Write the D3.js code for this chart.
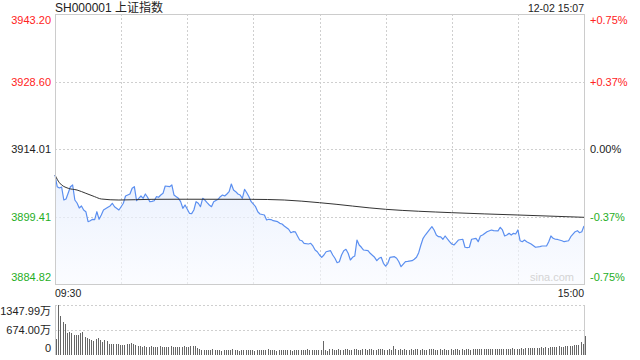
<!DOCTYPE html>
<html><head><meta charset="utf-8">
<script src="https://cdn.jsdelivr.net/npm/d3@7"></script>
<style>
html,body{margin:0;padding:0;background:#fff;}
svg{display:block;font-family:"Liberation Sans",Arial,"Noto Sans CJK SC",sans-serif;}
</style></head>
<body><svg id="c" width="640" height="360"></svg>
<script>
// ---- data ----
const title = "SH000001 上证指数";
const stamp = "12-02 15:07";
const prevClose = 3914.01;
const priceTicks = [3884.82, 3899.41, 3914.01, 3928.60, 3943.20];
const pctTicks = ["-0.75%", "-0.37%", "0.00%", "+0.37%", "+0.75%"];
const timeLabels = ["09:30", "15:00"];
const volTicks = [0, 674.00, 1347.99];
const volTickLabels = ["0", "674.00万", "1347.99万"];

// minute index (0 = 09:30, 120 = 11:30/13:00, 240 = 15:00) and price
const priceMin = [0,1,2,3,4,5,6,7,8,9,10,11,12,13,14,15,16,17,18,19,20,21,22,24,25,26,27,29,30,31,32,33,34,35,36,37,38,39,40,41,42,43,44,45,46,47,48,49,50,52,53,54,55,56,57,58,59,61,62,63,64,65,66,67,68,69,70,71,72,74,75,76,77,78,79,80,81,82,83,84,85,86,87,88,89,91,92,93,95,96,97,98,99,101,102,103,104,106,107,108,109,110,111,112,113,115,116,117,118,119,120,
121,122,123,125,126,127,128,129,130,131,132,133,134,135,136,137,138,139,140,142,143,145,146,147,148,149,150,151,152,154,155,156,157,159,160,162,163,164,165,166,167,168,170,171,172,173,174,175,176,177,179,180,181,182,183,185,186,187,188,189,191,192,193,194,196,198,199,201,202,203,204,205,206,207,208,209,210,211,212,213,214,216,218,220,221,223,224,225,226,227,228,230,231,233,234,236,237,238,239,240];
const priceVal = [3908.39,3905.86,3905.58,3905.79,3902.98,3903.20,3904.50,3905.86,3906.23,3902.98,3902.33,3901.25,3901.69,3900.82,3900.45,3898.29,3898.51,3898.81,3898.75,3900.45,3898.81,3899.74,3900.82,3901.40,3901.69,3902.27,3901.53,3900.82,3901.53,3902.27,3903.85,3904.06,3904.28,3905.51,3905.86,3902.83,3903.35,3903.85,3903.35,3904.28,3903.57,3902.62,3902.70,3902.83,3903.70,3903.57,3904.06,3904.43,3906.01,3905.86,3906.23,3904.06,3903.70,3903.35,3902.62,3901.19,3901.90,3900.11,3900.05,3900.82,3902.62,3902.27,3901.53,3903.35,3902.98,3902.40,3901.90,3901.53,3902.62,3903.13,3903.70,3904.06,3903.85,3904.28,3904.78,3906.44,3905.14,3904.78,3904.28,3904.06,3903.35,3905.30,3904.56,3903.70,3902.62,3901.53,3900.45,3899.96,3899.74,3898.66,3898.81,3898.75,3898.51,3898.29,3897.94,3897.79,3897.36,3896.65,3895.91,3896.13,3896.10,3895.20,3894.33,3894.18,3893.62,3893.47,3893.62,3893.04,3892.17,3891.80,3891.09,
3890.59,3891.09,3891.80,3892.02,3891.09,3890.38,3889.43,3889.64,3891.09,3892.02,3892.32,3891.46,3890.01,3890.59,3890.87,3894.33,3893.25,3892.76,3892.17,3892.02,3891.46,3890.59,3889.86,3890.38,3890.59,3889.30,3888.71,3889.30,3890.59,3890.72,3890.38,3889.64,3888.56,3889.64,3889.70,3889.86,3890.16,3890.59,3891.59,3893.25,3894.70,3895.41,3896.65,3897.21,3896.50,3895.41,3895.05,3895.00,3894.49,3895.20,3893.97,3893.47,3893.25,3893.75,3894.33,3894.49,3892.76,3892.70,3892.76,3894.49,3894.70,3893.97,3895.20,3895.41,3896.13,3896.50,3896.35,3896.30,3897.08,3896.50,3895.20,3895.41,3895.78,3895.41,3895.78,3895.63,3896.50,3894.18,3893.97,3894.33,3893.97,3893.47,3892.76,3892.89,3893.04,3893.04,3893.97,3895.20,3894.70,3894.49,3894.45,3894.18,3893.97,3894.18,3895.05,3896.13,3896.35,3895.91,3896.13,3897.36];

// average price line samples
const avgMin = [0,2,6,10,14,18,21,29,44,59,89,104,120,150,180,210,240];
const avgVal = [3908.39,3906.72,3905.51,3905.14,3904.43,3903.70,3903.20,3902.98,3903.13,3903.15,3903.13,3902.98,3902.40,3900.97,3900.24,3899.74,3899.24];

// volume per minute (万)
const volMorning = [422,1347.99,1051,899,827,584,629,584,539,539,539,602,629,494,449,422,404,386,422,449,404,359,404,377,
297,305,297,290,300,270,280,260,290,300,332,310,280,250,240,
225,230,220,225,235,225,215,225,230,220,225,210,225,230,220,215,225,220,225,230,215,220,
243,250,240,180,150,
135,130,140,125,135,150,130,140,125,120,135,145,130,140,150,125,130,120,140,135,125,130,145,140,120,130,135,140,125,130,150,140,135,125,120,130,140,135,145,130,125,120,135,140,130,125,135,140,150,130,125,140,135,130,145];
const volAfternoon = [377,
140,120,150,160,145,130,155,140,125,150,160,135,140,150,165,145,130,150,155,140,160,150,145,130,150,165,155,140,135,150,145,
243,
150,140,155,145,150,140,135,150,145,155,160,140,150,135,145,150,160,170,145,140,150,135,155,145,140,150,145,155,165,140,150,145,160,150,140,155,165,150,160,170,155,165,160,150,175,165,160,
160,170,165,175,160,170,180,165,175,170,
180,175,190,185,180,195,200,185,190,205,195,210,200,215,205,220,210,230,215,225,
240,230,250,245,265,260,280,360,300,512];

// ---- drawing ----
const svg = d3.select("#c");
const L = 55, R = 584, T = 14, B = 284, VT = 305, VB = 355;
const red = "#f22", green = "#1fae1f", grid = "#cfcfcf", border = "#cccccc";

const x = d3.scaleLinear().domain([0, 240]).range([L, R]);
const y = d3.scaleLinear().domain([priceTicks[0], priceTicks[4]]).range([B, T]);
const yv = d3.scaleLinear().domain([0, volTicks[2]]).range([VB, VT]);

// gradient
const defs = svg.append("defs");
const grad = defs.append("linearGradient").attr("id", "g").attr("x1", 0).attr("y1", 0).attr("x2", 0).attr("y2", 1);
grad.append("stop").attr("offset", "0%").attr("stop-color", "#e3ecfd").attr("stop-opacity", 0.75);
grad.append("stop").attr("offset", "100%").attr("stop-color", "#f8faff").attr("stop-opacity", 0.6);

// grid
const gx = d3.range(30, 240, 30);
svg.append("g").selectAll("line").data(gx).join("line")
  .attr("x1", d => Math.round(x(d)) + 0.5).attr("x2", d => Math.round(x(d)) + 0.5).attr("y1", T).attr("y2", B)
  .attr("stroke", grid).attr("stroke-dasharray", "2,2");
svg.append("g").selectAll("line").data(priceTicks.slice(1, 4)).join("line")
  .attr("x1", L).attr("x2", R).attr("y1", d => Math.round(y(d)) + 0.5).attr("y2", d => Math.round(y(d)) + 0.5)
  .attr("stroke", grid).attr("stroke-dasharray", "2,2");

// area + lines
const pts = priceMin.map((m, i) => [m, priceVal[i]]);
svg.append("path").datum(pts)
  .attr("d", d3.area().x(d => x(d[0])).y0(B).y1(d => y(d[1])))
  .attr("fill", "url(#g)");
svg.append("path").datum(pts)
  .attr("d", d3.line().x(d => x(d[0])).y(d => y(d[1])))
  .attr("fill", "none").attr("stroke", "#5b8ff0").attr("stroke-width", 1.2).attr("stroke-linejoin", "round");
const apts = avgMin.map((m, i) => [m, avgVal[i]]);
svg.append("path").datum(apts)
  .attr("d", d3.line().curve(d3.curveMonotoneX).x(d => x(d[0])).y(d => y(d[1])))
  .attr("fill", "none").attr("stroke", "#333").attr("stroke-width", 1);

// borders of main
svg.append("rect").attr("x", L + 0.5).attr("y", T + 0.5).attr("width", R - L).attr("height", B - T)
  .attr("fill", "none").attr("stroke", border);

// watermark
svg.append("text").attr("x", 574).attr("y", 281).attr("text-anchor", "end")
  .attr("font-size", 11).attr("fill", "#d4d4d4").text("sina.com");

// left price labels
const pc = d => d > prevClose + 0.001 ? red : (d < prevClose - 0.001 ? green : "#222");
const labY = (d, i) => i === 4 ? T + 10 : (i === 0 ? B - 3 : y(d) + 4);
svg.append("g").selectAll("text").data(priceTicks).join("text")
  .attr("x", 51).attr("y", labY).attr("text-anchor", "end").attr("font-size", 11)
  .attr("fill", pc).text(d => d.toFixed(2));
svg.append("g").selectAll("text").data(pctTicks).join("text")
  .attr("x", 590).attr("y", (d, i) => labY(priceTicks[i], i)).attr("font-size", 11)
  .attr("fill", (d, i) => pc(priceTicks[i])).text(d => d);

// title and stamp
svg.append("text").attr("x", 55).attr("y", 12).attr("font-size", 12).attr("fill", "#222").text(title);
svg.append("text").attr("x", 584).attr("y", 12).attr("text-anchor", "end").attr("font-size", 10.5).attr("fill", "#222").text(stamp);

// time labels
svg.append("text").attr("x", 55).attr("y", 297).attr("font-size", 10.5).attr("fill", "#222").text(timeLabels[0]);
svg.append("text").attr("x", 584).attr("y", 297).attr("text-anchor", "end").attr("font-size", 10.5).attr("fill", "#222").text(timeLabels[1]);

// volume panel
svg.append("g").selectAll("line").data(volTicks.slice(1)).join("line")
  .attr("x1", L).attr("x2", R).attr("y1", d => Math.round(yv(d)) + 0.5).attr("y2", d => Math.round(yv(d)) + 0.5)
  .attr("stroke", grid).attr("stroke-dasharray", "2,2");
svg.append("line").attr("x1", L + 0.5).attr("x2", L + 0.5).attr("y1", VT).attr("y2", VB).attr("stroke", border);
svg.append("line").attr("x1", R + 0.5).attr("x2", R + 0.5).attr("y1", VT).attr("y2", VB).attr("stroke", border);
const vols = volMorning.concat(volAfternoon);
svg.append("g").attr("shape-rendering", "crispEdges").selectAll("rect").data(vols).join("rect")
  .attr("x", (d, i) => Math.round(x(i)) + 1).attr("width", 1)
  .attr("y", d => Math.round(yv(d))).attr("height", d => VB - Math.round(yv(d)))
  .attr("fill", "#666");
svg.append("g").selectAll("text").data(volTickLabels).join("text")
  .attr("x", 51).attr("y", (d, i) => i === 2 ? VT + 10 : (i === 0 ? VB - 3 : yv(volTicks[i]) + 4))
  .attr("text-anchor", "end").attr("font-size", 11).attr("fill", "#222").text(d => d);
</script></body></html>
